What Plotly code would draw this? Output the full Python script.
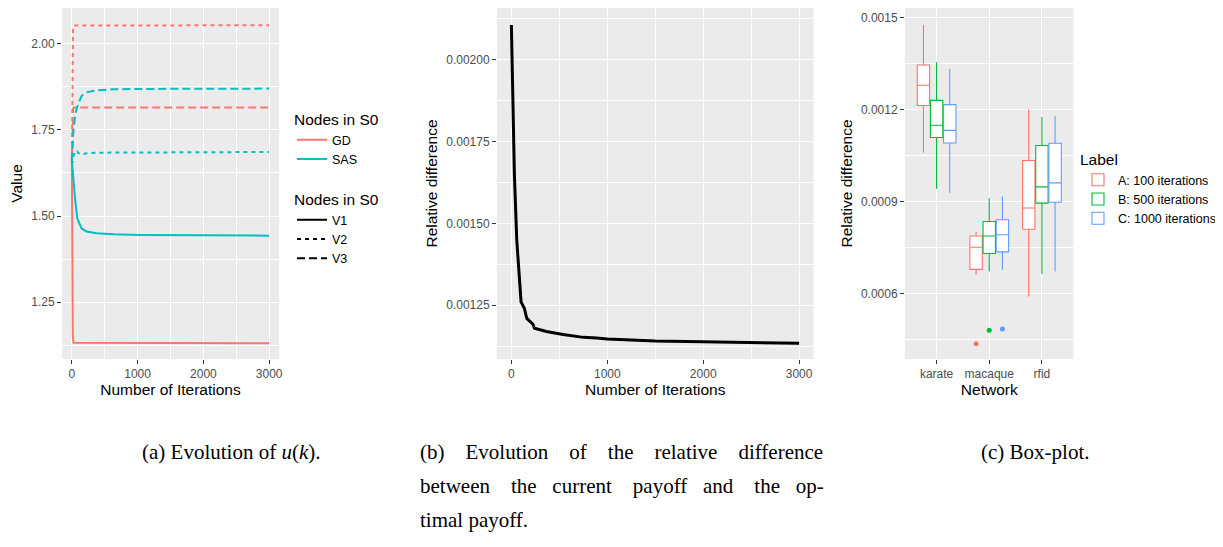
import plotly.graph_objects as go

# page body has an 8px margin; the figure is sized so that it fills the window
OFF = 8
W, H = 1223 - OFF, 547 - OFF


def px(x):
    return (x - OFF) / W


def py(y):
    return 1 - (y - OFF) / H


# ---------------- Panel (a): Evolution of u(k) ----------------
gd_v1_x = [0, 4, 8, 14, 25, 3000]
gd_v1_y = [1.660, 1.500, 1.300, 1.150, 1.132, 1.131]
gd_v2_x = [0, 4, 10, 18, 30, 3000]
gd_v2_y = [1.660, 1.800, 1.950, 2.040, 2.053, 2.054]
gd_v3_x = [0, 5, 10, 18, 30, 3000]
gd_v3_y = [1.660, 1.740, 1.790, 1.812, 1.815, 1.815]
sas_v1_x = [0, 20, 46, 82, 100, 112, 148, 224, 377, 632, 1040, 2000, 3000]
sas_v1_y = [1.661, 1.604, 1.556, 1.493, 1.484, 1.479, 1.464, 1.455, 1.450, 1.447, 1.445, 1.444, 1.443]
sas_v2_x = [0, 10, 20, 40, 61, 80, 97, 148, 224, 400, 3000]
sas_v2_y = [1.661, 1.655, 1.671, 1.685, 1.690, 1.688, 1.683, 1.679, 1.682, 1.684, 1.686]
sas_v3_x = [0, 10, 20, 46, 70, 97, 148, 224, 377, 632, 1000, 3000]
sas_v3_y = [1.661, 1.700, 1.738, 1.786, 1.810, 1.825, 1.849, 1.859, 1.865, 1.868, 1.869, 1.870]

methods = ["GD", "SAS"]
nodes = ["V1", "V2", "V3"]

# ---------------- Panel (b): relative difference ----------------
rel_x = [0, 14, 31, 56, 84, 101, 110, 125, 136, 150, 161, 185, 206, 225, 241, 300, 364, 539, 750, 889,
         1000, 1500, 2000, 2500, 3000]
rel_y = [0.002105, 0.001876, 0.001652, 0.001449, 0.001317, 0.001260, 0.001255, 0.001245, 0.001240,
         0.001222, 0.001210, 0.001203, 0.001198, 0.001192, 0.001180, 0.001175, 0.001170, 0.001161,
         0.001152, 0.001150, 0.001147, 0.001141, 0.001138, 0.001136, 0.001134]

# ---------------- Panel (c): box-plot ----------------
networks = ["karate", "macaque", "rfid"]
labels = ["A: 100 iterations", "B: 500 iterations", "C: 1000 iterations"]
box_lower = [[0.001060, 0.000663, 0.000592],
             [0.000943, 0.000673, 0.000666],
             [0.000930, 0.000679, 0.000673]]
box_q1 = [[0.001214, 0.000680, 0.000811],
          [0.001110, 0.000732, 0.000896],
          [0.001092, 0.000737, 0.000899]]
box_median = [[0.001280, 0.000752, 0.000880],
              [0.001150, 0.000789, 0.000949],
              [0.001133, 0.000793, 0.000962]]
box_q3 = [[0.001346, 0.000789, 0.001035],
          [0.001231, 0.000836, 0.001084],
          [0.001217, 0.000842, 0.001091]]
box_upper = [[0.001477, 0.000803, 0.001202],
             [0.001355, 0.000912, 0.001177],
             [0.001334, 0.000918, 0.001179]]
outlier_net = ["macaque", "macaque", "macaque"]
outlier_label = [0, 1, 2]
outlier_val = [0.000438, 0.000482, 0.000486]

# ---------------- styles ----------------
COL_METHOD = {"GD": "#F8766D", "SAS": "#00BFC4"}
DASH = {"V1": "solid", "V2": "4px,4px", "V3": "8px,4px"}
COL_LABEL = ["#F8766D", "#00BA38", "#619CFF"]
FONT = "Liberation Sans, Arial, sans-serif"
SERIF = "Liberation Serif, Times New Roman, serif"
TICK_FS = 12
LEG_FS = 12.5
TITLE_FS = 15.5

series_a = {
    ("GD", "V1"): (gd_v1_x, gd_v1_y),
    ("GD", "V2"): (gd_v2_x, gd_v2_y),
    ("GD", "V3"): (gd_v3_x, gd_v3_y),
    ("SAS", "V1"): (sas_v1_x, sas_v1_y),
    ("SAS", "V2"): (sas_v2_x, sas_v2_y),
    ("SAS", "V3"): (sas_v3_x, sas_v3_y),
}

fig = go.Figure()

for (m, n), (xs, ys) in series_a.items():
    fig.add_trace(go.Scatter(x=xs, y=ys, mode="lines", showlegend=False,
                             line=dict(color=COL_METHOD[m], dash=DASH[n], width=2),
                             xaxis="x", yaxis="y", hoverinfo="skip"))

# legend-only entries for panel (a)
for m in methods:
    fig.add_trace(go.Scatter(x=[None], y=[None], mode="lines", name=m, legend="legend",
                             line=dict(color=COL_METHOD[m], width=2), xaxis="x", yaxis="y"))
for n in nodes:
    fig.add_trace(go.Scatter(x=[None], y=[None], mode="lines", name=n, legend="legend2",
                             line=dict(color="black", dash=DASH[n], width=2), xaxis="x", yaxis="y"))

# panel (b)
fig.add_trace(go.Scatter(x=rel_x, y=rel_y, mode="lines", showlegend=False,
                         line=dict(color="black", width=3), xaxis="x2", yaxis="y2",
                         hoverinfo="skip"))

# panel (c)
offsets = [-0.25, 0.0, 0.25]
for i, lab in enumerate(labels):
    pos = [j + 1 + offsets[i] for j in range(len(networks))]
    fig.add_trace(go.Box(x=pos, q1=box_q1[i], median=box_median[i], q3=box_q3[i],
                         lowerfence=box_lower[i], upperfence=box_upper[i],
                         name=lab, legend="legend3", width=0.235, whiskerwidth=0,
                         line=dict(color=COL_LABEL[i], width=1.1), fillcolor="white",
                         boxpoints=False, xaxis="x3", yaxis="y3"))
for net, li, val in zip(outlier_net, outlier_label, outlier_val):
    fig.add_trace(go.Scatter(x=[networks.index(net) + 1 + offsets[li]], y=[val], mode="markers",
                             marker=dict(color=COL_LABEL[li], size=5), showlegend=False,
                             xaxis="x3", yaxis="y3", hoverinfo="skip"))

ydom = [py(359), py(7 + 0.0) if False else py(7)]
ydom = [py(359), min(1.0, py(7))]
grid = dict(showgrid=True, gridcolor="white", gridwidth=1.1, zeroline=False, showline=False,
            ticks="outside", ticklen=4, tickwidth=1, tickcolor="#333333", automargin=False,
            tickfont=dict(size=TICK_FS, color="#4D4D4D", family=FONT))
minor = dict(showgrid=True, gridcolor="white", gridwidth=0.5, ticks="")

leg_common = dict(xanchor="left", yanchor="top", bgcolor="rgba(0,0,0,0)",
                  font=dict(size=LEG_FS), tracegroupgap=0, itemwidth=30)

fig.update_layout(
    width=W, height=H, margin=dict(l=0, r=0, t=0, b=0, autoexpand=False),
    paper_bgcolor="white", plot_bgcolor="#EBEBEB",
    font=dict(family=FONT, color="black"),
    xaxis=dict(domain=[px(62), px(279)], range=[-150, 3150], tickmode="linear", tick0=0, dtick=1000,
               tickformat="d", minor=dict(dtick=500, **minor),
               title=dict(text="Number of Iterations", font=dict(size=TITLE_FS), standoff=3), **grid),
    yaxis=dict(domain=ydom, range=[1.085, 2.104], tickmode="linear", tick0=1.25, dtick=0.25,
               tickformat=".2f", minor=dict(dtick=0.125, **minor),
               title=dict(text="Value", font=dict(size=TITLE_FS), standoff=4), **grid),
    xaxis2=dict(domain=[px(497), px(813.5)], range=[-150, 3150], tickmode="linear", tick0=0, dtick=1000,
                tickformat="d", minor=dict(dtick=500, **minor), anchor="y2",
                title=dict(text="Number of Iterations", font=dict(size=TITLE_FS), standoff=3), **grid),
    yaxis2=dict(domain=ydom, range=[0.001086, 0.002157], tickmode="linear", tick0=0.00125,
                dtick=0.00025, tickformat=".5f", minor=dict(dtick=0.000125, **minor), anchor="x2",
                title=dict(text="Relative difference", font=dict(size=TITLE_FS), standoff=4), **grid),
    xaxis3=dict(domain=[px(905), px(1073.5)], range=[0.4, 3.6], tickmode="array",
                tickvals=[1, 2, 3], ticktext=networks, anchor="y3",
                title=dict(text="Network", font=dict(size=TITLE_FS), standoff=3), **grid),
    yaxis3=dict(domain=ydom, range=[0.000388, 0.001532], tickmode="linear", tick0=0.0006,
                dtick=0.0003, tickformat=".4f", minor=dict(dtick=0.00015, **minor), anchor="x3",
                title=dict(text="Relative difference", font=dict(size=TITLE_FS), standoff=4), **grid),
    boxmode="overlay",
    legend=dict(x=px(292), y=py(105), title=dict(text="Nodes in S0", font=dict(size=TITLE_FS)),
                **leg_common),
    legend2=dict(x=px(292), y=py(185), title=dict(text="Nodes in S0", font=dict(size=TITLE_FS)),
                 **leg_common),
    legend3=dict(x=px(1078), y=py(145), title=dict(text="Label", font=dict(size=TITLE_FS)),
                 **leg_common),
)

NB3 = "\u00a0" * 3
NB4 = "\u00a0" * 4
line_b1 = NB4.join(["(b)", "Evolution", "of", "the", "relative", "difference"])
b2_words = ["between", "the", "current", "payoff", "and", "the", "op-"]
gaps = [NB4, NB3, NB4, NB3, NB4, NB3]
line_b2 = b2_words[0] + "".join(g + w for g, w in zip(gaps, b2_words[1:]))

cap_font = dict(family=SERIF, size=21, color="black")
captions = [
    (231, 452, "center", "(a) Evolution of <i>u</i>(<i>k</i>)."),
    (418, 452, "left", line_b1),
    (418, 486, "left", line_b2),
    (418, 520, "left", "timal payoff."),
    (1035, 452, "center", "(c) Box-plot."),
]
for cx, cy, anc, txt in captions:
    fig.add_annotation(x=px(cx), y=py(cy), xref="paper", yref="paper", text=txt,
                       showarrow=False, xanchor=anc, yanchor="middle", font=cap_font)

fig.write_html("out.html")
